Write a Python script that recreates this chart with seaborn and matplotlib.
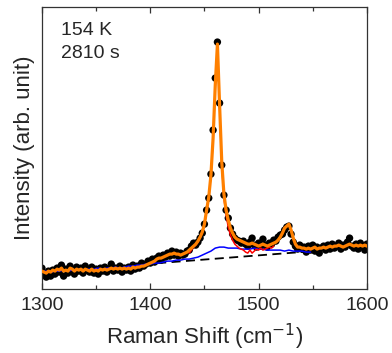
import numpy as np
import pandas as pd
import matplotlib
matplotlib.use("Agg")
import matplotlib.pyplot as plt
import seaborn as sns
from matplotlib.ticker import MultipleLocator

sns.set_style("white")
plt.rcParams['font.family'] = ['Liberation Sans', 'DejaVu Sans']

# Raman shift grid of the measured spectrum (cm^-1), 2 cm^-1 steps
shift = np.arange(1300, 1601, 2)

# measured intensity (arb. unit), one value per shift
data_y = [
    22, 15, 13, 19, 14, 20, 16, 22, 18, 25,   # 1300-1318
    14, 21, 17, 24, 20, 16, 23, 19, 22, 17,   # 1320-1338
    24, 20, 18, 23, 17, 21, 16, 22, 19, 23,   # 1340-1358
    18, 21, 26, 19, 22, 20, 24, 18, 22, 20,   # 1360-1378
    23, 19, 25, 21, 24, 22, 27, 24, 26, 29,   # 1380-1398
    27, 31, 28, 32, 34, 30, 35, 33, 37, 34,   # 1400-1418
    39, 35, 38, 34, 37, 35, 36, 39, 40, 44,   # 1420-1438
    47, 45, 48, 52, 57, 66, 80, 92, 116, 160, # 1440-1458
    212, 248, 187, 125, 95, 80, 72, 62, 56, 52,  # 1460-1478
    50, 49, 47, 49, 46, 44, 48, 52, 45, 43,   # 1480-1498
    47, 44, 51, 45, 43, 47, 46, 50, 49, 53,   # 1500-1518
    55, 56, 60, 63, 64, 56, 48, 44, 41, 45,   # 1520-1538
    41, 43, 38, 44, 40, 45, 39, 43, 37, 42,   # 1540-1558
    44, 40, 45, 41, 46, 42, 44, 47, 41, 45,   # 1560-1578
    43, 48, 52, 44, 42, 46, 41, 47, 44, 40,   # 1580-1598
    46,                                       # 1600
]

# smoothed total curve (orange), same grid
total_y = [
    19, 18, 17, 19, 18, 20, 19, 21, 20, 22,
    19, 20, 19, 22, 21, 19, 21, 20, 21, 19,
    21, 20, 19, 21, 19, 20, 19, 21, 20, 21,
    20, 21, 22, 21, 22, 21, 22, 21, 22, 21,
    22, 21, 23, 22, 23, 23, 24, 24, 25, 26,
    27, 28, 29, 31, 32, 32, 33, 34, 35, 36,
    36, 37, 36, 36, 35, 36, 37, 38, 40, 42,
    44, 46, 49, 53, 58, 66, 80, 93, 115, 152,
    205, 246, 185, 128, 96, 80, 70, 62, 57, 53,
    51, 50, 49, 48, 47, 46, 46, 47, 46, 45,
    44, 45, 46, 45, 44, 45, 46, 47, 48, 50,
    53, 57, 62, 64, 66, 60, 52, 46, 43, 43,
    42, 42, 41, 42, 41, 42, 43, 41, 42, 42,
    43, 42, 43, 44, 43, 44, 44, 45, 44, 43,
    44, 45, 46, 45, 44, 45, 44, 45, 44, 45,
    44,
]

# fitted main-peak component (red)
red_x = np.arange(1436, 1515, 2)
red_y = [37, 40, 43, 45, 48, 52, 57, 65, 78, 92,
         114, 150, 203, 244, 183, 125, 92, 75, 63, 55,
         50, 46, 44, 42, 41, 40, 38, 37, 40, 37,
         39, 41, 40, 42, 40, 41, 42, 43, 42, 44]

# broad component + background (blue)
blue_x = np.arange(1300, 1549, 4)
blue_y = [18, 19, 18, 19, 19, 20, 19, 20, 20, 21,
          20, 21, 21, 22, 21, 22, 22, 23, 22, 23,
          24, 24, 25, 25, 26, 26, 27, 27, 28, 29,
          29, 30, 30, 31, 31, 32, 33, 35, 37, 39,
          42, 43, 43, 42, 42, 42, 41, 41, 41, 42,
          41, 41, 40, 40, 40, 40, 39, 40, 39, 39,
          39, 38, 38]

# linear background (dashed)
bg_x = [1300, 1545]
bg_y = [18, 38.5]

df = pd.DataFrame({"shift": shift, "data": data_y, "total": total_y})
df_red = pd.DataFrame({"shift": red_x, "y": red_y})
df_blue = pd.DataFrame({"shift": blue_x, "y": blue_y})
df_bg = pd.DataFrame({"shift": bg_x, "y": bg_y})

fig = plt.figure(figsize=(3.92, 3.53), dpi=100)
ax = fig.add_axes([0.107, 0.181, 0.829, 0.799])

sns.scatterplot(data=df, x="shift", y="data", ax=ax, color="black",
                s=28, edgecolor="none", zorder=2, legend=False)
sns.lineplot(data=df_bg, x="shift", y="y", ax=ax, color="black",
             linewidth=1.3, zorder=3)
ax.lines[-1].set_linestyle((0, (5, 3)))
sns.lineplot(data=df_blue, x="shift", y="y", ax=ax, color="#0000ff",
             linewidth=1.1, zorder=4)
sns.lineplot(data=df_red, x="shift", y="y", ax=ax, color="#ff0000",
             linewidth=1.1, zorder=5)
sns.lineplot(data=df, x="shift", y="total", ax=ax, color="#ff8000",
             linewidth=2.3, zorder=6)

ax.set_xlim(1300, 1600)
ax.set_ylim(1, 283)
ax.set_yticks([])
ax.xaxis.set_major_locator(MultipleLocator(100))
ax.xaxis.set_minor_locator(MultipleLocator(50))
ax.tick_params(axis="x", which="both", direction="in", bottom=True, top=True,
               labelsize=14, color="#333333", pad=6)
ax.tick_params(axis="x", which="major", length=4, width=0.9)
ax.tick_params(axis="x", which="minor", length=3, width=0.9)
for sp in ax.spines.values():
    sp.set_color("#333333")
    sp.set_linewidth(0.9)

ax.set_xlabel("Raman Shift (cm$^{-1}$)", fontsize=16, labelpad=5)
ax.set_ylabel("Intensity (arb. unit)", fontsize=16, labelpad=5)

ax.text(0.06, 0.918, "154 K", transform=ax.transAxes, fontsize=14,
        ha="left", va="center")
ax.text(0.06, 0.835, "2810 s", transform=ax.transAxes, fontsize=14,
        ha="left", va="center")

fig.savefig("out.png", dpi=100)
